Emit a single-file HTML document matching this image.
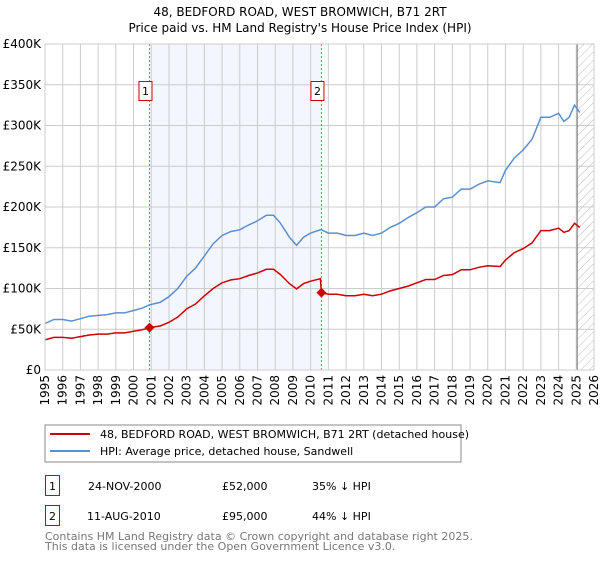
<!DOCTYPE html>
<html><head><meta charset="utf-8"><style>
body{margin:0;background:#fff;font-family:"Liberation Sans","DejaVu Sans",sans-serif}
svg text{font-family:"DejaVu Sans","Liberation Sans",sans-serif}
</style></head><body>
<svg id="c" width="600" height="560" xmlns="http://www.w3.org/2000/svg">
<defs><pattern id="hatch" width="6" height="6" patternUnits="userSpaceOnUse" patternTransform="rotate(45)"><line x1="0" y1="0" x2="0" y2="6" stroke="#bbb" stroke-width="1"/></pattern></defs>
<text x="300" y="16" text-anchor="middle" font-size="12">48, BEDFORD ROAD, WEST BROMWICH, B71 2RT</text>
<text x="300" y="32" text-anchor="middle" font-size="12">Price paid vs. HM Land Registry's House Price Index (HPI)</text>
<g id="plot"></g>
<g>
<rect x="45" y="425" width="416" height="37" fill="#fff" stroke="#888"/>
<line x1="50" y1="434" x2="90" y2="434" stroke="#cc0000" stroke-width="2"/>
<text x="100" y="438" font-size="11">48, BEDFORD ROAD, WEST BROMWICH, B71 2RT (detached house)</text>
<line x1="50" y1="451" x2="90" y2="451" stroke="#5b8fd0" stroke-width="2"/>
<text x="100" y="455" font-size="11">HPI: Average price, detached house, Sandwell</text>
</g>
<g font-size="11">
<rect x="45.5" y="475.5" width="14" height="20" fill="#fff" stroke="#cc0000"/>
<text x="52.5" y="490" text-anchor="middle">1</text>
<text x="88" y="490">24-NOV-2000</text><text x="222" y="490">£52,000</text><text x="312" y="490">35% ↓ HPI</text>
<rect x="45.5" y="505.5" width="14" height="20" fill="#fff" stroke="#cc0000"/>
<text x="52.5" y="520" text-anchor="middle">2</text>
<text x="87" y="520">11-AUG-2010</text><text x="222" y="520">£95,000</text><text x="312" y="520">44% ↓ HPI</text>
</g>
<text x="45" y="540" font-size="11" fill="#777">Contains HM Land Registry data © Crown copyright and database right 2025.</text>
<text x="45" y="550" font-size="11" fill="#777">This data is licensed under the Open Government Licence v3.0.</text>
</svg>
<script>
const years=[1995,1995.5,1996,1996.5,1997,1997.5,1998,1998.5,1999,1999.5,2000,2000.5,2000.9,2001.5,2002,2002.5,2003,2003.5,2004,2004.5,2005,2005.5,2006,2006.5,2007,2007.5,2007.9,2008.3,2008.8,2009.2,2009.6,2010,2010.55,2010.61,2011,2011.5,2012,2012.5,2013,2013.5,2014,2014.5,2015,2015.5,2016,2016.5,2017,2017.5,2018,2018.5,2019,2019.5,2020,2020.7,2021,2021.5,2022,2022.5,2023,2023.5,2024,2024.3,2024.6,2024.9,2025.2];
const hpi=[57,62,62,60,63,66,67,68,70,70,73,76,80,83,90,100,115,125,140,155,165,170,172,178,183,190,190,180,163,153,163,168,172,172,168,168,165,165,168,165,168,175,180,187,193,200,200,210,212,222,222,228,232,230,245,260,270,283,310,310,315,305,310,325,316];
const prop=[37,40,40,39,41,43,44,44,45.5,45.5,47.5,49.5,52,54,58.5,65,75,81,91,100,107,110.5,112,116,119,123.5,123.5,117,106,99.5,106,109,112,95,93,93,91,91,93,91,93,97,100,103,107,111,111,116,117,123,123,126,128,127,135,144,149,156,171,171,174,169,171,180,175];
const saleYears=[2000.9,2010.61];
const salePrices=[52,95];
const saleLabels=["1","2"];
const yTicks=[0,50,100,150,200,250,300,350,400];
const yTickLabels=["£0","£50K","£100K","£150K","£200K","£250K","£300K","£350K","£400K"];
const xTicks=[];for(let y=1995;y<=2026;y++)xTicks.push(y);
const L=45,R=594,T=44,B=370,X0=1995,X1=2026,YMAX=400;
const sx=v=>L+(v-X0)/(X1-X0)*(R-L);
const sy=v=>B-v/YMAX*(B-T);
const NS="http://www.w3.org/2000/svg";
const g=document.getElementById('plot');
function mk(t,a){const e=document.createElementNS(NS,t);for(const k in a)e.setAttribute(k,a[k]);g.appendChild(e);return e;}
let e;
e=mk('rect',{x:sx(saleYears[0]),y:T,width:sx(saleYears[1])-sx(saleYears[0]),height:B-T,fill:'#eef3fc',opacity:0.7});


e=mk('rect',{x:sx(2025.05),y:T,width:R-sx(2025.05),height:B-T,fill:'url(#hatch)'});


yTicks.forEach((v,i)=>{
 e=mk('line',{x1:L,x2:R,y1:sy(v),y2:sy(v),stroke:'#ccc'});
 
 
 e=mk('text',{x:L-4,y:sy(v)+4,'text-anchor':'end','font-size':12});
 e.textContent=yTickLabels[i];
 
 
});
xTicks.forEach(v=>{
 e=mk('line',{x1:sx(v),x2:sx(v),y1:T,y2:B,stroke:'#ccc'});
 
 
 e=mk('text',{x:0,y:0,'text-anchor':'end','font-size':12,transform:`translate(${sx(v)+4},${B+5}) rotate(-90)`});
 e.textContent=v;
 
 
});
e=mk('line',{x1:sx(2025.05),x2:sx(2025.05),y1:T,y2:B,stroke:'#777'});


saleYears.forEach((y,i)=>{
 e=mk('line',{x1:sx(y),x2:sx(y),y1:T,y2:B,stroke:'#e06060','stroke-dasharray':'2,2'});
 
 
});
const path=a=>a.map((v,i)=>(i?'L':'M')+sx(years[i]).toFixed(1)+','+sy(v).toFixed(1)).join('');
e=mk('path',{d:path(hpi),fill:'none',stroke:'#5b8fd0','stroke-width':1.5});


e=mk('path',{d:path(prop),fill:'none',stroke:'#cc0000','stroke-width':1.5});


saleYears.forEach((y,i)=>{
 const cx=sx(y),cy=sy(salePrices[i]);
 e=mk('path',{d:`M${cx},${cy-5}L${cx+5},${cy}L${cx},${cy+5}L${cx-5},${cy}Z`,fill:'#cc0000'});
 
 
 e=mk('rect',{x:cx-10.5,y:81.5,width:13,height:19,fill:'#fff',stroke:'#cc0000'});
 
 
 e=mk('text',{x:cx-4,y:95,'text-anchor':'middle','font-size':11});
 e.textContent=saleLabels[i];
 
 
});
e=mk('rect',{x:L,y:T,width:R-L,height:B-T,fill:'none',stroke:'#ccc'});


</script>
</body></html>
